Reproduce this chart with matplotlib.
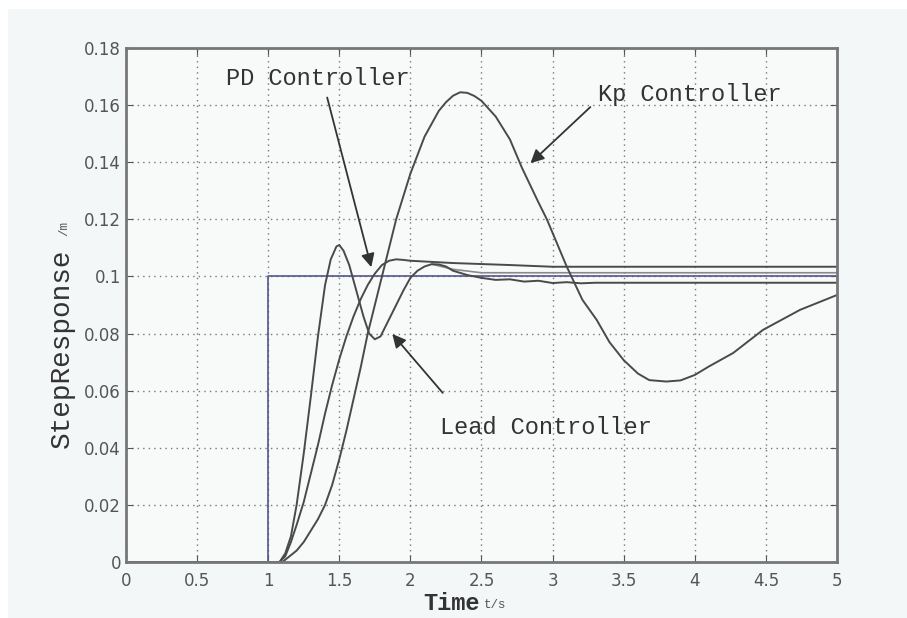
import matplotlib
matplotlib.use("Agg")
import matplotlib.pyplot as plt
from matplotlib.patches import Rectangle

# Donnees
step_t = [0, 1, 1, 5]
step_y = [0, 0, 0.1, 0.1]

lead_t = [0, 1.0, 1.08, 1.12, 1.16, 1.2, 1.25, 1.3, 1.35, 1.4, 1.44, 1.48, 1.5, 1.53, 1.57,
          1.62, 1.67, 1.71, 1.75, 1.79, 1.84, 1.9, 1.95, 2.0, 2.05, 2.1, 2.15, 2.2, 2.25,
          2.3, 2.4, 2.5, 2.6, 2.7, 2.8, 2.9, 3.0, 3.1, 3.2, 3.3, 5.0]
lead_y = [0, 0, 0, 0.003, 0.009, 0.02, 0.038, 0.058, 0.079, 0.097, 0.106, 0.1105, 0.111,
          0.109, 0.104, 0.095, 0.086, 0.080, 0.078, 0.079, 0.084, 0.090, 0.095, 0.0995,
          0.102, 0.1035, 0.1043, 0.1042, 0.1035, 0.102, 0.1005, 0.0995, 0.0988, 0.099,
          0.0982, 0.0985, 0.0977, 0.098, 0.0976, 0.0978, 0.0978]

pd_t = [0, 1.0, 1.08, 1.12, 1.16, 1.2, 1.25, 1.3, 1.35, 1.4, 1.45, 1.5, 1.55, 1.6, 1.65,
        1.7, 1.75, 1.8, 1.85, 1.9, 1.95, 2.0, 2.3, 2.7, 3.0, 5.0]
pd_y = [0, 0, 0, 0.002, 0.007, 0.013, 0.021, 0.031, 0.041, 0.052, 0.062, 0.071, 0.079,
        0.086, 0.092, 0.097, 0.101, 0.104, 0.1055, 0.106, 0.1058, 0.1055, 0.1047, 0.104,
        0.1034, 0.1034]

kp_t = [0, 1.0, 1.1, 1.15, 1.2, 1.25, 1.3, 1.35, 1.4, 1.45, 1.5, 1.55, 1.6, 1.65, 1.7,
        1.75, 1.8, 1.9, 2.0, 2.1, 2.2, 2.25, 2.3, 2.35, 2.4, 2.45, 2.5, 2.6, 2.7, 2.785,
        2.9, 2.96, 3.1, 3.21, 3.31, 3.4, 3.5, 3.6, 3.68, 3.8, 3.9, 4.0, 4.1, 4.27, 4.48,
        4.74, 5.0]
kp_y = [0, 0, 0, 0.002, 0.004, 0.007, 0.011, 0.015, 0.02, 0.027, 0.036, 0.046, 0.057,
        0.068, 0.08, 0.09, 0.1, 0.12, 0.136, 0.149, 0.158, 0.161, 0.1633, 0.1645, 0.1643,
        0.1632, 0.1615, 0.156, 0.148, 0.138, 0.126, 0.12, 0.1034, 0.0918, 0.0848, 0.077,
        0.0707, 0.066, 0.0637, 0.0632, 0.0636, 0.0655, 0.0685, 0.0732, 0.0813, 0.0883,
        0.0935]

aux_t = [2.15, 2.3, 2.5, 5.0]
aux_y = [0.1043, 0.1025, 0.1013, 0.1013]

xticks = [0, 0.5, 1, 1.5, 2, 2.5, 3, 3.5, 4, 4.5, 5]
xlabels = ['0', '0.5', '1', '1.5', '2', '2.5', '3', '3.5', '4', '4.5', '5']
yticks = [0, 0.02, 0.04, 0.06, 0.08, 0.1, 0.12, 0.14, 0.16, 0.18]
ylabels = ['0', '0.02', '0.04', '0.06', '0.08', '0.1', '0.12', '0.14', '0.16', '0.18']

mono = 'Liberation Mono'

fig = plt.figure(figsize=(9.07, 6.18), dpi=100, facecolor='white')
# fond gris clair
fig.patches.append(Rectangle((8 / 907, 0), 1, 1 - 9 / 618, transform=fig.transFigure,
                             facecolor='#f4f7f7', edgecolor='none', zorder=-10))
ax = fig.add_axes([0.1389, 0.0906, 0.7839, 0.8317])
ax.set_facecolor('#f8f9f9')

ax.plot(step_t, step_y, color='#55558a', lw=1.2)
ax.plot(aux_t, aux_y, color='#8a8a8a', lw=1.2)
ax.plot(lead_t, lead_y, color='#4a4a4a', lw=1.4)
ax.plot(pd_t, pd_y, color='#4a4a4a', lw=1.4)
ax.plot(kp_t, kp_y, color='#4a4a4a', lw=1.4)

ax.set_xlim(0, 5)
ax.set_ylim(0, 0.18)
ax.set_xticks(xticks)
ax.set_xticklabels(xlabels)
ax.set_yticks(yticks)
ax.set_yticklabels(ylabels)
ax.tick_params(direction='in', top=True, right=True, length=5, color='#555555',
               labelsize=12, labelcolor='#555555')
ax.tick_params(axis='x', pad=7)
ax.grid(True, linestyle=(0, (1, 3)), color='#777777', lw=1.0)
for s in ax.spines.values():
    s.set_color('#777777')
    s.set_linewidth(2)

# Legende par annotations
arrow = dict(arrowstyle='-|>', color='#333333', lw=1.3, mutation_scale=20)
ax.text(0.70, 0.1695, 'PD Controller', fontsize=17, family=mono, color='#333333',
        va='center', ha='left')
ax.annotate('', xy=(1.73, 0.1023), xytext=(1.41, 0.1636), arrowprops=arrow)
ax.text(3.32, 0.1636, 'Kp Controller', fontsize=17, family=mono, color='#333333',
        va='center', ha='left')
ax.annotate('', xy=(2.83, 0.139), xytext=(3.28, 0.160), arrowprops=arrow)
ax.text(2.21, 0.047, 'Lead Controller', fontsize=17, family=mono, color='#333333',
        va='center', ha='left')
ax.annotate('', xy=(1.86, 0.0806), xytext=(2.24, 0.0585), arrowprops=arrow)

# Titres des axes
fig.text(423 / 907, 1 - 603 / 618, 'Time', fontsize=17, family=mono, weight='bold',
         color='#333333', ha='left', va='center')
fig.text(484 / 907, 1 - 605 / 618, 't/s', fontsize=9, family=mono, color='#555555',
         ha='left', va='center')
fig.text(62 / 907, 1 - 348 / 618, 'StepResponse', fontsize=20, family=mono,
         color='#333333', rotation=90, ha='center', va='center')
fig.text(64 / 907, 1 - 228 / 618, '/m', fontsize=9, family=mono, color='#555555',
         rotation=90, ha='center', va='center')

fig.savefig('out.png', dpi=100, facecolor=fig.get_facecolor())
